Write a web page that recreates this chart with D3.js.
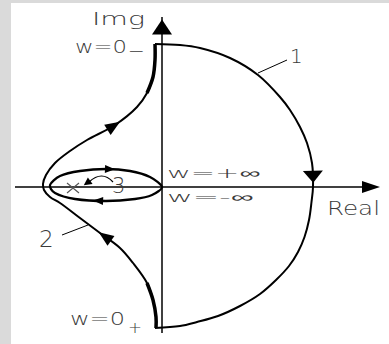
<!DOCTYPE html>
<html><head><meta charset="utf-8">
<script src="https://cdn.jsdelivr.net/npm/d3@7"></script>
<style>html,body{margin:0;padding:0;background:#fff;overflow:hidden}svg{display:block}</style>
</head><body>
<svg id="chart" width="389" height="344"></svg>
<script>
// Nyquist loci, points as [real, imaginary]
// Locus 1: from w=0- (top) clockwise to w=0+ (bottom)
const locus1 = [
  [-0.14, 2.86], [0.36, 2.84], [0.76, 2.78], [1.36, 2.58], [1.92, 2.24],
  [2.36, 1.80], [2.56, 1.54], [2.76, 1.20], [2.90, 0.88], [3.00, 0.48],
  [3.02, 0.00], [2.99, -0.30], [2.94, -0.66], [2.85, -1.00], [2.72, -1.30],
  [2.54, -1.58], [2.28, -1.86], [1.96, -2.14], [1.56, -2.38], [1.12, -2.58],
  [0.70, -2.70], [0.36, -2.78], [-0.14, -2.82]
];
// Locus 2: from w=0- (top) round the left cusp to w=0+ (bottom)
const locus2 = [
  [-0.14, 2.86], [-0.14, 2.54], [-0.18, 2.20], [-0.30, 1.88], [-0.50, 1.60],
  [-0.94, 1.24], [-1.50, 0.94], [-1.84, 0.72], [-2.14, 0.48], [-2.32, 0.24],
  [-2.38, 0.06], [-2.36, -0.06], [-2.24, -0.20], [-2.04, -0.32], [-1.64, -0.62],
  [-1.24, -0.92], [-0.84, -1.22], [-0.58, -1.52], [-0.30, -1.92], [-0.18, -2.26],
  [-0.12, -2.60], [-0.12, -2.82]
];
// Locus 3: closed loop around the pole
const locus3 = [
  [0.00, 0.00], [-0.20, -0.16], [-0.54, -0.24], [-1.12, -0.28], [-1.74, -0.24],
  [-2.14, -0.12], [-2.24, 0.04], [-2.04, 0.22], [-1.64, 0.32], [-1.12, 0.36],
  [-0.64, 0.32], [-0.24, 0.20]
];
// Pole position
const pole = [-1.78, -0.02];
// Direction arrows: locus, location, direction along the point order
const arrowMarks = [
  { locus: 1, at: [3.02, 0.20], dir: 1, len: 12, half: 10 },
  { locus: 2, at: [-0.96, 1.22], dir: -1, len: 15, half: 6 },
  { locus: 2, at: [-1.14, -0.98], dir: -1, len: 15, half: 6 },
  { locus: 3, at: [-1.04, 0.36], dir: 1, len: 10, half: 4 },
  { locus: 3, at: [-1.28, -0.30], dir: 1, len: 10, half: 4 }
];
const axisNames = ["Real", "Img"];
const locusNames = ["1", "2", "3"];

const svg = d3.select("#chart");
const W = 389, H = 344;
const x = d3.scaleLinear().domain([-3, 4]).range([12, 362]);
const y = d3.scaleLinear().domain([-3, 3]).range([337, 37]);
const ink = "#000";
const txt = "#3a3a3a";
const font = "'DejaVu Sans', sans-serif";

// frame
svg.append("rect").attr("width", W).attr("height", H).attr("fill", "#fff");
svg.append("rect").attr("width", 11).attr("height", H).attr("fill", "#dadada");
svg.append("rect").attr("width", W).attr("height", 3).attr("fill", "#dadada");

function triangle(px, py, ang, len, half) {
  const c = Math.cos(ang), s = Math.sin(ang);
  const tip = [px + c * len / 2, py + s * len / 2];
  const bx = px - c * len / 2, by = py - s * len / 2;
  const a = [bx - s * half, by + c * half];
  const b = [bx + s * half, by - c * half];
  svg.append("path").attr("d", `M${tip}L${a}L${b}Z`).attr("fill", ink);
}

// axes
const x0 = x(0), y0 = y(0);
svg.append("line").attr("x1", x(-2.94)).attr("x2", x(4.3)).attr("y1", y0).attr("y2", y0)
  .attr("stroke", ink).attr("stroke-width", 1.5);
triangle(x(4.18), y0, 0, 18, 6);
svg.append("line").attr("x1", x0).attr("x2", x0).attr("y1", y(-2.92)).attr("y2", y(3.4))
  .attr("stroke", ink).attr("stroke-width", 1.5);
triangle(x0, y(3.2), -Math.PI / 2, 15, 10);

// loci
const line = d3.line().x(d => x(d[0])).y(d => y(d[1])).curve(d3.curveCatmullRom.alpha(0.5));
const loop = d3.line().x(d => x(d[0])).y(d => y(d[1])).curve(d3.curveCardinalClosed.tension(0.2));
const paths = {};
paths[1] = svg.append("path").attr("d", line(locus1)).attr("fill", "none")
  .attr("stroke", ink).attr("stroke-width", 2);
paths[2] = svg.append("path").attr("d", line(locus2)).attr("fill", "none")
  .attr("stroke", ink).attr("stroke-width", 2);
svg.append("path").attr("d", line(locus2.slice(0, 4))).attr("fill", "none")
  .attr("stroke", ink).attr("stroke-width", 3.5);
svg.append("path").attr("d", line(locus2.slice(-4))).attr("fill", "none")
  .attr("stroke", ink).attr("stroke-width", 3.5);
paths[3] = svg.append("path").attr("d", loop(locus3)).attr("fill", "none")
  .attr("stroke", ink).attr("stroke-width", 2.3);

// direction arrows placed on the loci
arrowMarks.forEach(m => {
  const node = paths[m.locus].node();
  const L = node.getTotalLength();
  const tx = x(m.at[0]), ty = y(m.at[1]);
  let best = 0, bd = Infinity;
  for (let l = 0; l <= L; l += 0.5) {
    const p = node.getPointAtLength(l);
    const d = (p.x - tx) ** 2 + (p.y - ty) ** 2;
    if (d < bd) { bd = d; best = l; }
  }
  const p1 = node.getPointAtLength(Math.max(0, best - 2));
  const p2 = node.getPointAtLength(Math.min(L, best + 2));
  const p = node.getPointAtLength(best);
  let ang = Math.atan2(p2.y - p1.y, p2.x - p1.x);
  if (m.dir < 0) ang += Math.PI;
  triangle(p.x, p.y, ang, m.len, m.half);
});

// pole marker
const px = x(pole[0]), py = y(pole[1]);
svg.append("path").attr("d", `M${px - 6},${py - 5}L${px + 6},${py + 5}M${px - 6},${py + 5}L${px + 6},${py - 5}`)
  .attr("stroke", "#555").attr("stroke-width", 1.1);

// leader lines
svg.append("line").attr("x1", 258).attr("y1", 73).attr("x2", 287).attr("y2", 60)
  .attr("stroke", ink).attr("stroke-width", 1);
svg.append("line").attr("x1", 62).attr("y1", 235).attr("x2", 88).attr("y2", 225)
  .attr("stroke", ink).attr("stroke-width", 1);
svg.append("path").attr("d", "M113,182 Q102,170 89,182").attr("fill", "none")
  .attr("stroke", ink).attr("stroke-width", 1.2);
triangle(87, 183, Math.PI * 0.8, 8, 4);

// text
function label(t, tx, ty, size, len, anchor) {
  const e = svg.append("text").attr("x", tx).attr("y", ty).text(t)
    .attr("font-family", font).attr("font-size", size).attr("font-weight", 200)
    .attr("fill", txt).attr("text-anchor", anchor || "start");
  if (len) e.attr("textLength", len).attr("lengthAdjust", "spacingAndGlyphs");
  return e;
}
label(axisNames[1], 92, 25, 18, 53);
label(axisNames[0], 327, 215, 20, 53);
label(locusNames[0], 290, 63, 20);
label(locusNames[1], 39, 247, 23);
label(locusNames[2], 112, 193, 21);

label("w=0", 75, 53, 18, 52);
label("\u2212", 128, 56, 14, 17);
label("w=0", 70, 325, 18, 55);
label("+", 128, 333, 16, 14);
label("w=+\u221E", 167, 178, 14, 93);
label("w=-\u221E", 167, 202, 14, 86);
</script>
</body></html>
